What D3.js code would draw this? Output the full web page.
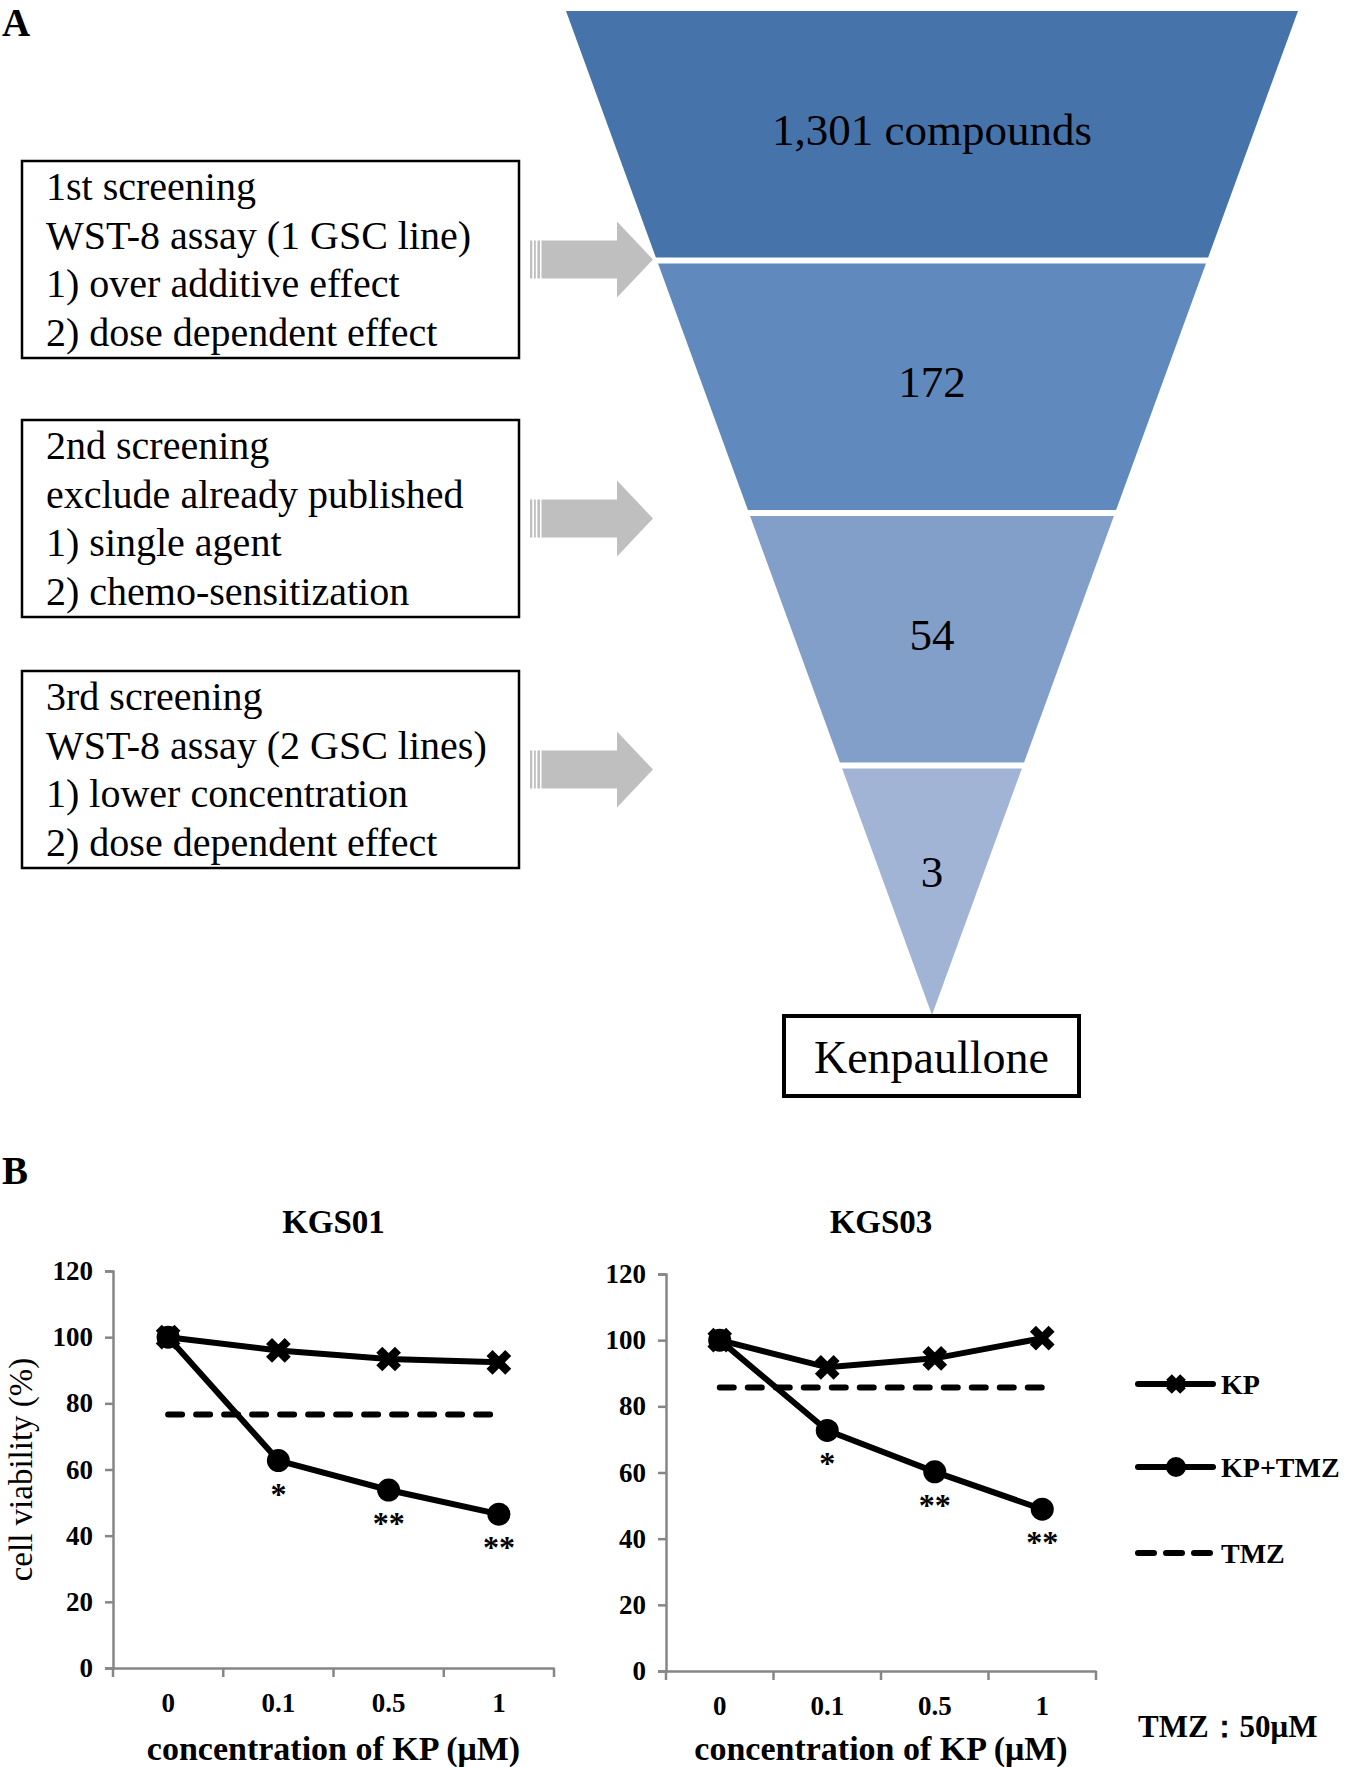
<!DOCTYPE html>
<html><head><meta charset="utf-8">
<script src="https://cdn.jsdelivr.net/npm/d3@7"></script>
<style>body{margin:0;background:#fff} svg{display:block}</style>
</head><body>
<svg id="fig" width="1345" height="1767"></svg>
<script>
// ---------- data ----------
const funnelStages = ["1,301 compounds", "172", "54", "3"];
const funnelColors = ["#4673aa", "#6089bd", "#829fc9", "#a1b4d6"];
const finalCompound = "Kenpaullone";
const screening1 = ["1st screening", "WST-8 assay (1 GSC line)", "1) over additive effect", "2) dose dependent effect"];
const screening2 = ["2nd screening", "exclude already published", "1) single agent", "2) chemo-sensitization"];
const screening3 = ["3rd screening", "WST-8 assay (2 GSC lines)", "1) lower concentration", "2) dose dependent effect"];

const concentrations = ["0", "0.1", "0.5", "1"];
const yTicks = [0, 20, 40, 60, 80, 100, 120];
const kgs01KP = [100, 96.0, 93.4, 92.4];
const kgs01Combo = [100, 62.7, 53.8, 46.5];
const kgs01TMZ = 76.6;
const kgs03KP = [100, 91.8, 94.5, 100.6];
const kgs03Combo = [100, 72.7, 60.2, 48.9];
const kgs03TMZ = 85.7;
const significance = ["", "*", "**", "**"];
const legendLabels = ["KP", "KP+TMZ", "TMZ"];
const noteText = "TMZ\uFF1A50\u03BCM";

// ---------- setup ----------
const serif = '"Liberation Serif","Times New Roman",Times,serif';
const svg = d3.select("#fig");
const gray = "#868686";

// panel letters
svg.append("text").attr("x", 2).attr("y", 36).text("A")
  .attr("font-family", serif).attr("font-weight", "bold").attr("font-size", 39);
svg.append("text").attr("x", 2).attr("y", 1184).text("B")
  .attr("font-family", serif).attr("font-weight", "bold").attr("font-size", 39);

// ---------- funnel ----------
const fTop = 11, fApex = 1015, fCx = 932, fHalfTop = 366;
const fy = d3.scaleBand().domain(funnelStages).range([fTop, fApex]).paddingInner(0.0238).paddingOuter(0);
const halfW = d3.scaleLinear().domain([fTop, fApex]).range([fHalfTop, 0]);
const fg = svg.append("g");
funnelStages.forEach((s, i) => {
  const y0 = fy(s), y1 = y0 + fy.bandwidth();
  const pts = [[fCx - halfW(y0), y0], [fCx + halfW(y0), y0], [fCx + halfW(y1), y1], [fCx - halfW(y1), y1]];
  fg.append("path").attr("d", d3.line()(pts) + "Z").attr("fill", funnelColors[i]);
  const ly = y0 + fy.bandwidth() * (i < funnelStages.length - 1 ? 0.48 : 0.42);
  fg.append("text").attr("x", fCx).attr("y", ly).attr("dy", "0.34em")
    .attr("text-anchor", "middle").attr("font-family", serif).attr("font-size", 45).text(s);
});
// final box
fg.append("rect").attr("x", 784).attr("y", 1016).attr("width", 295).attr("height", 80)
  .attr("fill", "#fff").attr("stroke", "#000").attr("stroke-width", 4);
fg.append("text").attr("x", 931.5).attr("y", 1073).attr("text-anchor", "middle")
  .attr("font-family", serif).attr("font-size", 46).text(finalCompound);

// ---------- screening boxes + arrows ----------
const boxTops = [161, 420, 671];
const boxH = 197;
[screening1, screening2, screening3].forEach((lines, k) => {
  const top = boxTops[k];
  const g = svg.append("g");
  g.append("rect").attr("x", 22).attr("y", top).attr("width", 497).attr("height", boxH)
    .attr("fill", "#fff").attr("stroke", "#000").attr("stroke-width", 2.5);
  lines.forEach((t, j) => {
    g.append("text").attr("x", 46).attr("y", top + 39 + j * 48.7)
      .attr("font-family", serif).attr("font-size", 40).text(t);
  });
  const cy = top + boxH / 2;
  const tip = 653, hb = 617, hh = 38, bh = 19, bl = 541.5;
  const ap = [[bl, cy - bh], [hb, cy - bh], [hb, cy - hh], [tip, cy], [hb, cy + hh], [hb, cy + bh], [bl, cy + bh]];
  g.append("path").attr("d", d3.line()(ap) + "Z").attr("fill", "#bfbfbf");
  [[530, 2.3], [534, 1.8], [537.4, 2.6]].forEach(([sx, sw]) => {
    g.append("rect").attr("x", sx).attr("y", cy - bh).attr("width", sw).attr("height", 2 * bh).attr("fill", "#bfbfbf");
  });
});

// ---------- line charts ----------
const panels = [
  { title: "KGS01", kp: kgs01KP, combo: kgs01Combo, tmz: kgs01TMZ, x0: 113, x1: 554, y0: 1668, y1: 1271, ylabel: true },
  { title: "KGS03", kp: kgs03KP, combo: kgs03Combo, tmz: kgs03TMZ, x0: 666, x1: 1096, y0: 1671, y1: 1274, ylabel: false }
];

function xMark(g, cx, cy, size, sw) {
  g.append("path").attr("d", d3.symbol(d3.symbolX, size)())
    .attr("transform", `translate(${cx},${cy})`).attr("fill", "none")
    .attr("stroke", "#000").attr("stroke-width", sw);
}

panels.forEach(p => {
  const x = d3.scaleBand().domain(concentrations).range([p.x0, p.x1]);
  const y = d3.scaleLinear().domain([0, 120]).range([p.y0, p.y1]);
  const cx = c => x(c) + x.bandwidth() / 2;
  const g = svg.append("g");

  // y axis
  const ya = g.append("g").attr("transform", `translate(${p.x0},0)`)
    .call(d3.axisLeft(y).tickValues(yTicks).tickSize(8).tickPadding(12));
  ya.select(".domain").attr("stroke", gray).attr("stroke-width", 2.5);
  ya.selectAll(".tick line").attr("stroke", gray).attr("stroke-width", 2.5);
  ya.selectAll(".tick text").attr("font-family", serif).attr("font-weight", "bold")
    .attr("font-size", 27).attr("fill", "#000");

  // x axis
  const xa = g.append("g").attr("transform", `translate(0,${p.y0})`)
    .call(d3.axisBottom(x).tickSize(0).tickPadding(25));
  xa.select(".domain").attr("stroke", gray).attr("stroke-width", 2.5);
  xa.selectAll(".tick text").attr("font-family", serif).attr("font-weight", "bold")
    .attr("font-size", 27).attr("fill", "#000");
  const bounds = concentrations.map(c => x(c)).concat([p.x1]);
  g.selectAll(null).data(bounds).enter().append("line")
    .attr("x1", d => d).attr("x2", d => d).attr("y1", p.y0).attr("y2", p.y0 + 9)
    .attr("stroke", gray).attr("stroke-width", 2.5);

  // titles
  g.append("text").attr("x", (p.x0 + p.x1) / 2).attr("y", 1233).attr("text-anchor", "middle")
    .attr("font-family", serif).attr("font-weight", "bold").attr("font-size", 33).text(p.title);
  g.append("text").attr("x", (p.x0 + p.x1) / 2).attr("y", 1760).attr("text-anchor", "middle")
    .attr("font-family", serif).attr("font-weight", "bold").attr("font-size", 34)
    .text("concentration of KP (\u03BCM)");
  if (p.ylabel) {
    g.append("text").attr("transform", `translate(32,${(p.y0 + p.y1) / 2}) rotate(-90)`)
      .attr("text-anchor", "middle").attr("font-family", serif).attr("font-size", 33)
      .text("cell viability (%)");
  }

  // TMZ dashed
  g.append("line").attr("x1", cx(concentrations[0])).attr("x2", cx(concentrations[concentrations.length - 1]))
    .attr("y1", y(p.tmz)).attr("y2", y(p.tmz))
    .attr("stroke", "#000").attr("stroke-width", 6).attr("stroke-dasharray", "14 14")
    .attr("stroke-linecap", "round");

  const line = d3.line().x((d, i) => cx(concentrations[i])).y(d => y(d));
  g.append("path").attr("d", line(p.combo)).attr("fill", "none").attr("stroke", "#000").attr("stroke-width", 6);
  g.append("path").attr("d", line(p.kp)).attr("fill", "none").attr("stroke", "#000").attr("stroke-width", 6);

  p.combo.forEach((v, i) => {
    g.append("circle").attr("cx", cx(concentrations[i])).attr("cy", y(v)).attr("r", 11.5).attr("fill", "#000");
  });
  p.kp.forEach((v, i) => xMark(g, cx(concentrations[i]), y(v), 230, 8.5));

  significance.forEach((s, i) => {
    if (!s) return;
    g.append("text").attr("x", cx(concentrations[i])).attr("y", y(p.combo[i]) + 28 + 16)
      .attr("text-anchor", "middle").attr("font-family", serif).attr("font-weight", "bold")
      .attr("font-size", 32).text(s);
  });
});

// legend
const lg = svg.append("g");
const legY = [1384, 1467, 1553];
legendLabels.forEach((t, i) => {
  const yy = legY[i];
  const l = lg.append("line").attr("x1", 1138).attr("x2", 1213).attr("y1", yy).attr("y2", yy)
    .attr("stroke", "#000").attr("stroke-width", 6).attr("stroke-linecap", "round");
  if (i === 2) l.attr("stroke-dasharray", "16 12").attr("x2", 1214);
  if (i === 0) xMark(lg, 1176, yy, 130, 8);
  if (i === 1) lg.append("circle").attr("cx", 1176).attr("cy", yy).attr("r", 10).attr("fill", "#000");
  lg.append("text").attr("x", 1221).attr("y", yy).attr("dy", "0.34em")
    .attr("font-family", serif).attr("font-weight", "bold").attr("font-size", 28).text(t);
});
lg.append("text").attr("x", 1138).attr("y", 1737).attr("font-family", serif)
  .attr("font-weight", "bold").attr("font-size", 31).text(noteText);
</script>
</body></html>
